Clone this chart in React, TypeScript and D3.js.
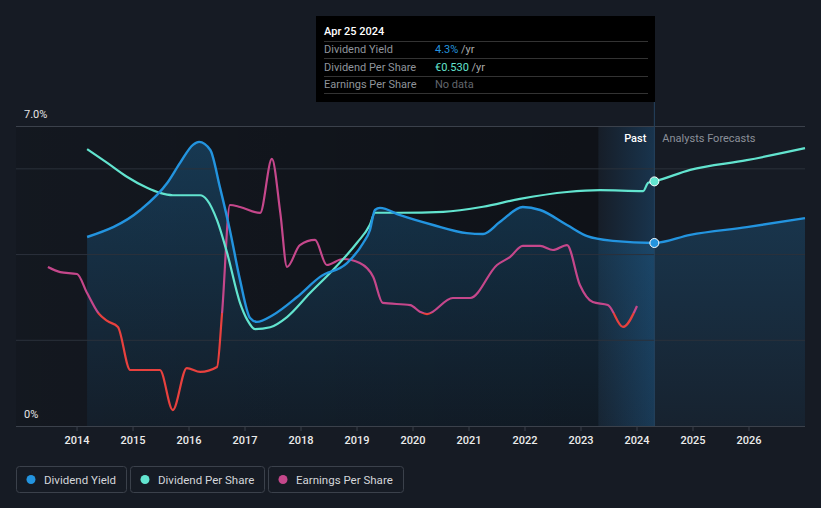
import React from 'react';
import * as d3 from 'd3';

// ---------- data ----------
const yieldYears = [2014.18, 2015.13, 2015.61, 2015.84, 2016.07, 2016.18, 2016.38, 2016.55, 2016.73, 2016.91, 2017.09, 2017.21, 2017.5, 2017.93, 2018.34, 2018.82, 2019.11, 2019.23, 2019.32, 2019.41, 2019.77, 2020.36, 2020.96, 2021.25, 2021.55, 2021.96, 2022.27, 2022.75, 2023.11, 2023.57, 2024.31, 2024.95, 2025.96, 2027.0];
const yieldValues = [4.41, 5.04, 5.67, 6.14, 6.56, 6.63, 6.44, 5.58, 4.57, 3.41, 2.52, 2.43, 2.59, 3.01, 3.48, 3.8, 4.27, 4.57, 5.04, 5.09, 4.92, 4.69, 4.5, 4.48, 4.76, 5.11, 5.04, 4.69, 4.43, 4.32, 4.27, 4.46, 4.64, 4.85];

const dpsYears = [2014.18, 2014.54, 2014.89, 2015.25, 2015.48, 2015.71, 2016.2, 2016.32, 2016.5, 2016.68, 2016.91, 2017.04, 2017.18, 2017.45, 2017.75, 2018.16, 2018.57, 2019.0, 2019.23, 2019.32, 2019.77, 2020.54, 2021.25, 2021.91, 2022.75, 2023.34, 2024.11, 2024.2, 2024.31, 2024.95, 2025.96, 2027.0];
const dpsValues = [0.6, 0.57, 0.54, 0.516, 0.505, 0.5, 0.5, 0.49, 0.446, 0.375, 0.267, 0.23, 0.21, 0.214, 0.236, 0.288, 0.338, 0.397, 0.436, 0.462, 0.462, 0.464, 0.475, 0.492, 0.507, 0.511, 0.509, 0.527, 0.53, 0.555, 0.576, 0.602];

const epsYears = [2013.48, 2013.7, 2014.0, 2014.18, 2014.38, 2014.54, 2014.73, 2014.95, 2015.13, 2015.48, 2015.71, 2015.96, 2016.2, 2016.5, 2016.59, 2016.73, 2016.91, 2017.27, 2017.48, 2017.63, 2017.75, 2017.98, 2018.25, 2018.46, 2018.75, 2019.05, 2019.29, 2019.46, 2019.95, 2020.13, 2020.25, 2020.71, 2021.02, 2021.5, 2021.73, 2021.96, 2022.27, 2022.5, 2022.75, 2022.98, 2023.21, 2023.48, 2023.75, 2024.0];
const epsValues = [0.307, 0.273, 0.26, 0.133, 0.0, -0.053, -0.093, -0.38, -0.38, -0.38, -0.647, -0.367, -0.393, -0.36, 0.0, 0.72, 0.707, 0.667, 1.027, 0.667, 0.307, 0.453, 0.487, 0.32, 0.36, 0.333, 0.24, 0.067, 0.053, 0.007, -0.007, 0.1, 0.1, 0.32, 0.373, 0.447, 0.447, 0.42, 0.453, 0.187, 0.073, 0.053, -0.093, 0.047];

const tickYears = [2014, 2015, 2016, 2017, 2018, 2019, 2020, 2021, 2022, 2023, 2024, 2025, 2026];
const gridYields = [2, 4, 6];
const nowYear = 2024.31;
const bandStartYear = 2023.31;

const legendItems = ['Dividend Yield', 'Dividend Per Share', 'Earnings Per Share'];
const tooltipRows = ['Dividend Yield', 'Dividend Per Share', 'Earnings Per Share'];

// ---------- styling ----------
const BLUE = '#2394df';
const TEAL = '#62e4cf';
const PINK = '#c5478b';
const RED = '#e8413e';
const BG = '#161b24';
const FONT = 'Roboto, "Noto Sans", sans-serif';

export default function App() {
  const W = 821, H = 508;
  const x = d3.scaleLinear().domain([2012.91, 2027.0]).range([16, 805]);
  const yY = d3.scaleLinear().domain([0, 7]).range([426, 126]);
  const yD = d3.scaleLinear().domain([0, 0.65]).range([426, 126]);
  const yE = d3.scaleLinear().domain([-0.7533, 1.2467]).range([426, 126]);

  const yieldPts = yieldYears.map((t, i) => [t, yieldValues[i]] as [number, number]);
  const dpsPts = dpsYears.map((t, i) => [t, dpsValues[i]] as [number, number]);
  const epsPts = epsYears.map((t, i) => [t, epsValues[i]] as [number, number]);

  const curve = d3.curveMonotoneX;
  const yieldLine = d3.line<[number, number]>().x(d => x(d[0])).y(d => yY(d[1])).curve(curve)(yieldPts) || '';
  const yieldArea = d3.area<[number, number]>().x(d => x(d[0])).y0(yY(0)).y1(d => yY(d[1])).curve(curve)(yieldPts) || '';
  const dpsLine = d3.line<[number, number]>().x(d => x(d[0])).y(d => yD(d[1])).curve(curve)(dpsPts) || '';
  const epsLine = d3.line<[number, number]>().x(d => x(d[0])).y(d => yE(d[1])).curve(curve)(epsPts) || '';

  const xNow = x(nowYear);
  const xBand = x(bandStartYear);
  const zeroE = yE(0);
  const nowYield = yieldValues[yieldYears.indexOf(nowYear)];
  const nowDps = dpsValues[dpsYears.indexOf(nowYear)];

  const legendBoxes = [[16, 110], [130, 134], [268, 135]];

  return (
    <div style={{ position: 'fixed', left: 0, top: 0, width: W, height: H, background: BG }}>
      <svg width={W} height={H} style={{ display: 'block', fontFamily: FONT }}>
        <defs>
          <linearGradient id="pastShade" gradientUnits="userSpaceOnUse" x1={x.range()[0]} x2={xBand} y1={0} y2={0}>
            <stop offset="0" stopColor="#000" stopOpacity={0.12} />
            <stop offset="1" stopColor="#000" stopOpacity={0.34} />
          </linearGradient>
          <linearGradient id="band" gradientUnits="userSpaceOnUse" x1={xBand} x2={xNow} y1={0} y2={0}>
            <stop offset="0" stopColor="#1f6fae" stopOpacity={0.03} />
            <stop offset="1" stopColor="#1f6fae" stopOpacity={0.3} />
          </linearGradient>
          <linearGradient id="areaFill" gradientUnits="userSpaceOnUse" x1={0} x2={0} y1={140} y2={426}>
            <stop offset="0" stopColor={BLUE} stopOpacity={0.27} />
            <stop offset="1" stopColor={BLUE} stopOpacity={0.06} />
          </linearGradient>
          <clipPath id="clipAbove"><rect x={0} y={0} width={W} height={zeroE} /></clipPath>
          <clipPath id="clipBelow"><rect x={0} y={zeroE} width={W} height={H - zeroE} /></clipPath>
        </defs>

        {/* background regions */}
        <rect x={x.range()[0]} y={yY(7)} width={xBand - x.range()[0]} height={yY(0) - yY(7)} fill="url(#pastShade)" />
        <rect x={xBand} y={yY(7)} width={xNow - xBand} height={yY(0) - yY(7)} fill="url(#band)" />

        {/* area */}
        <path d={yieldArea} fill="url(#areaFill)" />

        {/* grid */}
        {gridYields.map(g => (
          <line key={g} x1={16} x2={805} y1={yY(g)} y2={yY(g)} stroke="#2b313b" strokeWidth={1} />
        ))}
        <line x1={16} x2={805} y1={yY(7) + 0.5} y2={yY(7) + 0.5} stroke="#3b414b" strokeWidth={1} />
        <line x1={16} x2={805} y1={yY(0) + 0.5} y2={yY(0) + 0.5} stroke="#3b414b" strokeWidth={1} />

        {/* now line */}
        <line x1={xNow} x2={xNow} y1={101} y2={426} stroke="#24435e" strokeWidth={1} />

        {/* lines */}
        <path d={epsLine} fill="none" stroke={PINK} strokeWidth={2.2} clipPath="url(#clipAbove)" />
        <path d={epsLine} fill="none" stroke={RED} strokeWidth={2.2} clipPath="url(#clipBelow)" />
        <path d={dpsLine} fill="none" stroke={TEAL} strokeWidth={2.2} />
        <path d={yieldLine} fill="none" stroke={BLUE} strokeWidth={2.4} />

        {/* markers */}
        <circle cx={xNow} cy={yD(nowDps)} r={4.5} fill={TEAL} stroke="#fff" strokeWidth={1} />
        <circle cx={xNow} cy={yY(nowYield)} r={4.5} fill={BLUE} stroke="#fff" strokeWidth={1} />

        {/* y labels */}
        <text x={24} y={118} fontSize={11} fill="#e6e6e6">7.0%</text>
        <text x={24} y={418} fontSize={11} fill="#e6e6e6">0%</text>

        {/* past / forecast labels */}
        <text x={xNow - 8} y={142} fontSize={11} fill="#ffffff" fontWeight={500} textAnchor="end">Past</text>
        <text x={xNow + 8} y={142} fontSize={11} fill="#8b9099">Analysts Forecasts</text>

        {/* x axis */}
        {tickYears.map(t => (
          <g key={t}>
            <line x1={x(t)} x2={x(t)} y1={426} y2={431} stroke="#3b414b" />
            <text x={x(t)} y={443.5} fontSize={11} fill="#ececec" fontWeight={500} textAnchor="middle">{t}</text>
          </g>
        ))}

        {/* tooltip */}
        <rect x={316} y={16} width={339} height={86} fill="#000" />
        <text x={324} y={35} fontSize={11} fill="#fff" fontWeight={500}>Apr 25 2024</text>
        {[41, 58, 76, 93].map(yy => (
          <line key={yy} x1={324} x2={648} y1={yy + 0.5} y2={yy + 0.5} stroke="#333" />
        ))}
        {tooltipRows.map((r, i) => (
          <text key={r} x={324} y={53 + i * 17.5} fontSize={11} fill="#8f949b">{r}</text>
        ))}
        <text x={435} y={53} fontSize={11}>
          <tspan fill={BLUE}>{nowYield.toFixed(1) + '%'}</tspan>
          <tspan fill="#aaaaaa"> /yr</tspan>
        </text>
        <text x={435} y={70.5} fontSize={11}>
          <tspan fill={TEAL}>{'€' + nowDps.toFixed(3)}</tspan>
          <tspan fill="#aaaaaa"> /yr</tspan>
        </text>
        <text x={435} y={88} fontSize={11} fill="#62666d">No data</text>

        {/* legend */}
        {legendItems.map((name, i) => {
          const [bx, bw] = legendBoxes[i];
          const col = [BLUE, TEAL, PINK][i];
          return (
            <g key={name}>
              <rect x={bx + 0.5} y={466.5} width={bw} height={26} rx={3} fill="none" stroke="#3b414b" />
              <circle cx={bx + 15} cy={479.5} r={4.5} fill={col} />
              <text x={bx + 28} y={483.5} fontSize={11.5} fill="#d4d6da">{name}</text>
            </g>
          );
        })}
      </svg>
    </div>
  );
}
